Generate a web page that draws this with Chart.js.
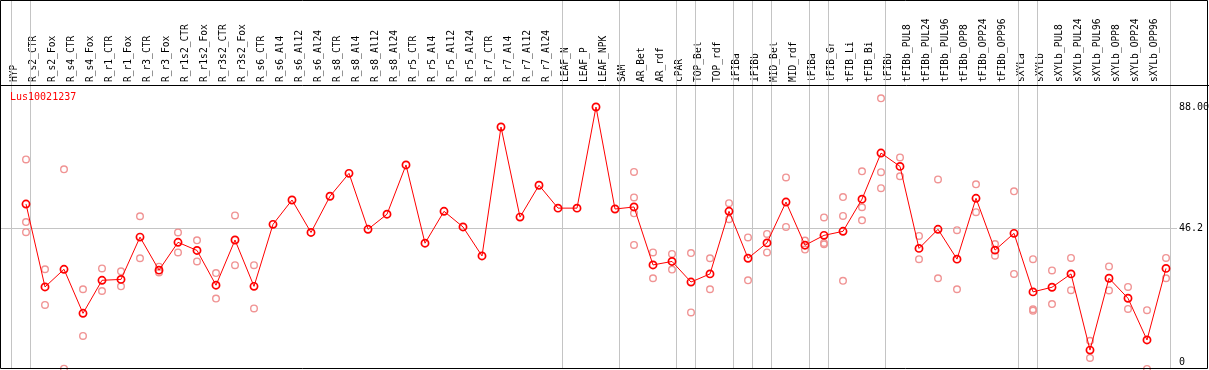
<!DOCTYPE html>
<html>
<head>
<meta charset="utf-8">
<script src="https://cdn.jsdelivr.net/npm/chart.js@4.4.1/dist/chart.umd.min.js"></script>
<style>
  html, body { margin: 0; padding: 0; background: #fff; }
  #wrap { width: 1209px; height: 370px; }
</style>
</head>
<body>
<div id="wrap"><canvas id="c" width="1209" height="370"></canvas></div>
<script>
const chartTitle = 'Lus10021237';

const categories = [
  'HYP','R_s2_CTR','R_s2_Fox','R_s4_CTR','R_s4_Fox','R_r1_CTR','R_r1_Fox','R_r3_CTR','R_r3_Fox',
  'R_r1s2_CTR','R_r1s2_Fox','R_r3s2_CTR','R_r3s2_Fox','R_s6_CTR','R_s6_Al4','R_s6_Al12','R_s6_Al24',
  'R_s8_CTR','R_s8_Al4','R_s8_Al12','R_s8_Al24','R_r5_CTR','R_r5_Al4','R_r5_Al12','R_r5_Al24',
  'R_r7_CTR','R_r7_Al4','R_r7_Al12','R_r7_Al24','LEAF_N','LEAF_P','LEAF_NPK','SAM','AR_Bet','AR_rdf',
  'cPAR','TOP_Bet','TOP_rdf','iFIBa','iFIBb','MID_Bet','MID_rdf','tFIBa','tFIB_Gr','tFIB_Li','tFIB_Bi',
  'tFIBb','tFIBb_PUL8','tFIBb_PUL24','tFIBb_PUL96','tFIBb_OPP8','tFIBb_OPP24','tFIBb_OPP96',
  'sXYLa','sXYLb','sXYLb_PUL8','sXYLb_PUL24','sXYLb_PUL96','sXYLb_OPP8','sXYLb_OPP24','sXYLb_OPP96'
];

const meanValues = [
  54.5, 25.9, 32.0, 16.8, 28.2, 28.5, 43.1, 31.7, 41.3,
  38.5, 26.5, 42.1, 26.1, 47.5, 55.9, 44.7, 57.2,
  65.1, 45.8, 51.0, 68.0, 41.0, 52.0, 46.6, 36.6,
  81.1, 50.0, 61.0, 53.1, 53.1, 88.0, 52.8, 53.5, 33.5, 34.7,
  27.6, 30.4, 52.0, 35.8, 41.1, 55.2, 40.3, 43.7, 45.1, 56.2, 72.1,
  67.5, 39.2, 45.8, 35.5, 56.5, 38.6, 44.4,
  24.2, 25.8, 30.4, 4.1, 28.9, 22.0, 7.6, 32.3
];

const rep1 = [
  69.9, 32.0, 66.5, 25.1, 32.3, 31.3, 50.3, 32.9, 44.7,
  42.0, 30.7, 50.6, 33.4, null, null, null, null,
  null, null, null, null, null, null, null, null,
  null, null, null, null, null, null, null, 65.6, 37.8, 37.3,
  37.6, 35.8, 54.8, 43.0, 44.2, 63.7, 41.9, 49.9, 56.9, 65.8, 91.0,
  70.6, 43.5, 63.0, 45.5, 61.3, 40.7, 58.9,
  35.5, 31.6, 35.9, 7.3, 33.0, 25.9, 17.9, 35.9
];
const rep2 = [
  48.3, 19.7, -2.3, 9.0, 24.5, 26.1, 35.8, 30.9, 37.8,
  34.7, 21.9, 33.4, 18.5, null, null, null, null,
  null, null, null, null, null, null, null, null,
  null, null, null, null, null, null, null, 56.8, 28.9, 31.9,
  17.1, 25.1, 49.3, 28.2, 37.8, 46.6, 38.8, 41.1, 50.4, 53.4, 65.5,
  64.1, 35.5, 28.9, 25.1, 51.7, 36.7, 30.4,
  18.2, 20.0, 24.8, 1.4, 24.7, 18.3, -2.4, 28.9
];
const rep3 = [
  44.8, null, null, null, null, null, null, null, null,
  null, null, null, null, null, null, null, null,
  null, null, null, null, null, null, null, null,
  null, null, null, null, null, null, null, 51.3, null, null,
  null, null, null, null, null, null, null, 40.6, 28.0, 48.9, 60.0,
  null, null, null, null, null, null, null,
  17.7, null, null, null, null, null, null, null
];
const rep4 = [
  null, null, null, null, null, null, null, null, null,
  null, null, null, null, null, null, null, null,
  null, null, null, null, null, null, null, null,
  null, null, null, null, null, null, null, 40.4, null, null,
  null, null, null, null, null, null, null, null, null, null, null,
  null, null, null, null, null, null, null,
  null, null, null, null, null, null, null, null
];

// indices of the last category of each group (separator lines drawn after them)
const groupEnds = [-1, 0, 28, 31, 34, 35, 37, 38, 39, 41, 42, 45, 52, 53, 60];

const yTickValues = [0, 46.2, 88];
const yTickLabels = ['0', '46.2', '88.00'];
const refLineValue = 46.2;

const RED = '#ff0000';
const PINK = '#f09494';
const GRID = '#c4c4c4';
const MONO = '"DejaVu Sans Mono", "Liberation Mono", monospace';

// target pixel rows for the bottom (0) and top (88) tick values
const Y_PIX_LOW = 362, Y_PIX_HIGH = 107;

const decor = {
  id: 'decor',
  beforeDraw(chart) {
    const ctx = chart.ctx;
    ctx.save();
    ctx.fillStyle = '#fff';
    ctx.fillRect(0, 0, chart.width, chart.height);
    ctx.restore();
  },
  beforeDatasetsDraw(chart) {
    const ctx = chart.ctx;
    const xs = chart.scales.x, ys = chart.scales.y;
    ctx.save();
    ctx.strokeStyle = GRID;
    ctx.lineWidth = 1;
    ctx.beginPath();
    groupEnds.forEach(i => {
      const px = Math.floor(xs.getPixelForValue(i) + 4.5) + 0.5;
      ctx.moveTo(px, 0);
      ctx.lineTo(px, 369);
    });
    const py = Math.round(ys.getPixelForValue(refLineValue)) + 0.5;
    ctx.moveTo(1, py);
    ctx.lineTo(1177, py);
    ctx.stroke();
    ctx.restore();
  },
  afterDraw(chart) {
    const ctx = chart.ctx;
    ctx.save();
    ctx.fillStyle = RED;
    ctx.font = '10px ' + MONO;
    ctx.textBaseline = 'middle';
    ctx.textAlign = 'left';
    ctx.fillText(chartTitle, 10, 97);
    ctx.strokeStyle = '#000';
    ctx.lineWidth = 1;
    ctx.beginPath();
    ctx.moveTo(0, 85.5); ctx.lineTo(1209, 85.5);
    ctx.rect(0.5, 0.5, 1207, 368);
    ctx.stroke();
    ctx.restore();
  }
};

const chart = new Chart(document.getElementById('c'), {
  type: 'line',
  data: {
    labels: categories,
    datasets: [
      {
        label: chartTitle,
        data: meanValues,
        borderColor: RED,
        borderWidth: 1,
        pointStyle: 'circle',
        pointRadius: 3.6,
        pointBorderWidth: 1.7,
        pointBorderColor: RED,
        pointBackgroundColor: 'rgba(0,0,0,0)',
        tension: 0,
        fill: false,
        clip: false
      },
      ...[rep1, rep2, rep3, rep4].map((r, k) => ({
        label: 'rep' + (k + 1),
        data: r,
        showLine: false,
        pointStyle: 'circle',
        pointRadius: 3.3,
        pointBorderWidth: 1.4,
        pointBorderColor: PINK,
        pointBackgroundColor: 'rgba(0,0,0,0)',
        borderColor: PINK,
        clip: false
      }))
    ]
  },
  options: {
    responsive: false,
    animation: false,
    devicePixelRatio: 1,
    layout: { padding: { left: 16.5, right: 0, top: 0, bottom: 0 } },
    plugins: { legend: { display: false }, tooltip: { enabled: false }, title: { display: false } },
    scales: {
      x: {
        type: 'category',
        position: 'top',
        offset: true,
        grid: { display: false, drawTicks: false },
        border: { display: false },
        ticks: {
          autoSkip: false,
          maxRotation: 90,
          minRotation: 90,
          padding: 4,
          color: '#000',
          font: { family: MONO, size: 9.6 }
        },
        afterFit(scale) {
          scale.height = 86;
          scale.paddingLeft = 0; scale.paddingRight = 0;
        }
      },
      y: {
        position: 'right',
        min: -2.07,
        max: 95.24,
        grid: { display: false, drawTicks: false },
        border: { display: false },
        afterBuildTicks(scale) { scale.ticks = yTickValues.map(v => ({ value: v })); },
        ticks: {
          padding: 3.5,
          color: '#000',
          font: { family: MONO, size: 10 },
          callback(value) {
            const i = yTickValues.indexOf(value);
            return i >= 0 ? yTickLabels[i] : '';
          }
        },
        afterFit(scale) {
          scale.width = 33.5;
          scale.paddingTop = 0; scale.paddingBottom = 0;
        }
      }
    }
  },
  plugins: [decor]
});

// fit the value range to the laid-out plot area so 0 and 88 land on the reference rows
(function calibrate() {
  const a = chart.chartArea;
  const top = yTickValues[yTickValues.length - 1];
  const k = (Y_PIX_LOW - Y_PIX_HIGH) / (top - yTickValues[0]);
  chart.options.scales.y.min = yTickValues[0] - (a.bottom - Y_PIX_LOW) / k;
  chart.options.scales.y.max = top + (Y_PIX_HIGH - a.top) / k;
  chart.update('none');
})();
</script>
</body>
</html>
